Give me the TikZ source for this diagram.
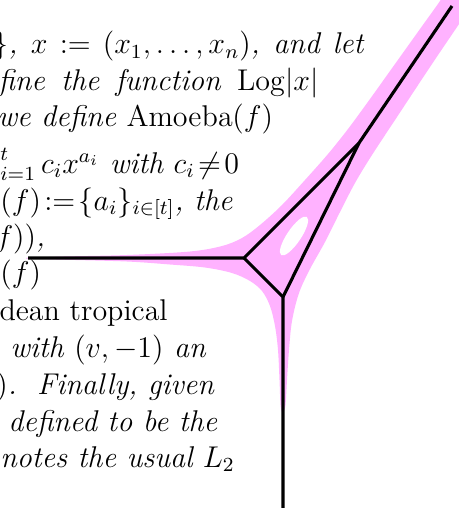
\documentclass[tikz,border=0pt]{standalone}
\definecolor{amoebapink}{RGB}{255,178,255}
\tikzset{
  txt/.style={anchor=base west, inner sep=0pt, font=\fontsize{12}{14.5}\selectfont\itshape},
  rmtxt/.style={txt, font=\fontsize{12}{14.5}\selectfont\upshape},
  amoeba/.style={fill=amoebapink, draw=none},
  trop/.style={draw=black, line width=1.25pt, line join=miter},
}
\begin{document}
\begin{tikzpicture}[x=0.4pt,y=-0.4pt]
\useasboundingbox (0,0) rectangle (459,508);
% amoeba
\fill[amoeba]
  plot[smooth,tension=0.55] coordinates {(26,258) (60,256.6) (127,255) (190,251.5) (222,246) (242,238) (260,225) (282,205) (305,180) (328,154) (348,129) (370,99) (395,64) (420,29) (440,1) (445,-8)}
  -- (485,-8)
  -- plot[smooth,tension=0.55] coordinates {(478,-4) (455,30) (430,67) (397,117) (372,155) (355,183) (340,212) (325,242) (310,269) (299,293) (292,321) (289,350) (287,380) (285.5,405) (283.5,412)}
  -- plot[smooth,tension=0.55] coordinates {(282,412) (280.5,405) (279.5,380) (278,350) (275,326) (270,306) (262,291) (250,281) (232,273) (205,267.5) (170,264.5) (127,261.5) (60,259.6) (26,258.6)}
  -- cycle;
\fill[white, rotate around={56:(294,236)}] (294,236) ellipse [x radius=23, y radius=7];
% tropical curve
\coordinate (L) at (28,258);
\coordinate (A) at (244,258);
\coordinate (B) at (359,143);
\coordinate (C) at (283,297);
\coordinate (T) at (452,6);
\coordinate (D) at (283,512);
\draw[trop] (L) -- (A) -- (B) -- (T);
\draw[trop] (A) -- (C) -- (D);
\draw[trop] (C) -- (B);
% text
\node[txt] (l1) at (-7,53.5) {\hbox to 148pt{$\}$, $x:=(x_1,\ldots,x_n)$, and let}};
\node[txt] (l2) at (-2,90) {\hbox to 128pt{fine the function $\mathrm{Log}|x|$}};
\node[txt] (l3) at (-3,126.5) {we define $\mathrm{Amoeba}(f)$};
\node[txt] (l4) at (0,173) {$\mathop{\vphantom{\sum}}\nolimits_{i=1}^{t} c_ix^{a_i}$\ with $c_i\!\neq\!0$};
\node[txt] (l5) at (0,210) {$(f)\!:=\!\{a_i\}_{i\in[t]}$, the};
\node[txt] (l6) at (-5,246) {$f))$,};
\node[txt] (l7) at (0,282.5) {$(f)$};
\node[rmtxt] (l8) at (-1,320) {dean tropical};
\node[txt] (l9) at (10,357) {with $(v,-1)$ an};
\node[txt] (l10) at (-4,394) {$)$.\hspace{2.5pt} Finally, given};
\node[txt] (l11) at (8,431) {defined to be the};
\node[txt] (l12) at (0,467) {notes the usual $L_2$};
\end{tikzpicture}
\end{document}
